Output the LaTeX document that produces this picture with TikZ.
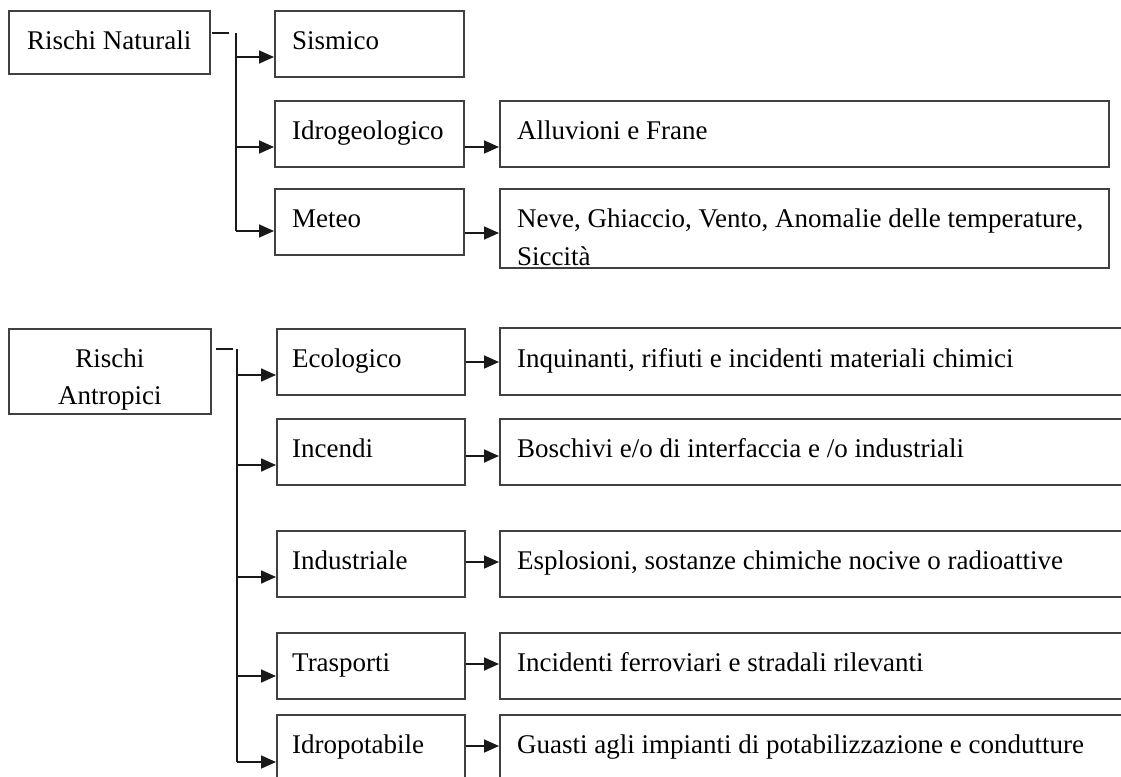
\documentclass[tikz,border=0pt]{standalone}
\usepackage{fontspec}
\setmainfont{Liberation Serif}
\usetikzlibrary{arrows.meta}
\begin{document}
\begin{tikzpicture}[x=1pt,y=-1pt,
  box/.style={draw=black!75, line width=1.6pt, anchor=north west, inner sep=0pt, fill=none},
  txt/.style={inner sep=0pt, font=\fontsize{27pt}{33pt}\selectfont, text=black},
  lt/.style={txt, anchor=base west},
  ct/.style={txt, anchor=base},
  conn/.style={draw=black!90, line width=1.7pt},
  arr/.style={conn, -{Triangle[length=15pt,width=13pt]}}]
\path[use as bounding box] (0,0) rectangle (1121,776);
\clip (0,0) rectangle (1121,776);
\fill[white] (0,0) rectangle (1121,776);
% ---------- Rischi Naturali ----------
\node[box, minimum width=201pt, minimum height=63pt] (nat) at (8,10) {};
\node[ct] (natT) at ([yshift=-39pt]nat.north) {Rischi Naturali};
\node[box, minimum width=189pt, minimum height=66pt] (sis) at (274,10) {};
\node[lt] (sisT) at ([xshift=18pt,yshift=-39pt]sis.north west) {Sismico};
\node[box, minimum width=189pt, minimum height=66pt] (idg) at (274,100) {};
\node[lt] (idgT) at ([xshift=18pt,yshift=-39pt]idg.north west) {Idrogeologico};
\node[box, minimum width=189pt, minimum height=66pt] (met) at (274,188) {};
\node[lt] (metT) at ([xshift=18pt,yshift=-39pt]met.north west) {Meteo};
\node[box, minimum width=609pt, minimum height=66pt] (all) at (499,100) {};
\node[lt] (allT) at ([xshift=18pt,yshift=-39pt]all.north west) {Alluvioni e Frane};
\node[box, minimum width=609pt, minimum height=79pt] (nev) at (499,188) {};
\node[lt] (nevT) at ([xshift=18pt,yshift=-39pt]nev.north west) {Neve, Ghiaccio, Vento, Anomalie delle temperature,};
\node[lt] (nevT2) at ([xshift=18pt,yshift=-77pt]nev.north west) {Siccità};
% connectors
\coordinate (nA) at (212,33);
\coordinate (nB) at (229,33);
\coordinate (nVt) at (236,33);
\coordinate (nVb) at (236,231);
\draw[conn] (nA) -- (nB);
\draw[conn] (nVt) -- (nVb);
\draw[arr] (nVt |- 0,57) -- (sis.west |- 0,57);
\draw[arr] (nVt |- 0,147) -- (idg.west |- 0,147);
\draw[arr] (nVb) -- (met.west |- nVb);
\draw[arr] (idg.east |- 0,147) -- (all.west |- 0,147);
\draw[arr] (met.east |- 0,233) -- (nev.west |- 0,233);
% ---------- Rischi Antropici ----------
\node[box, minimum width=202pt, minimum height=85pt] (ant) at (8,328) {};
\node[ct] (antT1) at ([yshift=-39pt]ant.north) {Rischi};
\node[ct] (antT2) at ([yshift=-76pt]ant.north) {Antropici};
\node[box, minimum width=188pt, minimum height=66pt] (eco) at (276,328) {};
\node[lt] (ecoT) at ([xshift=16pt,yshift=-39pt]eco.north west) {Ecologico};
\node[box, minimum width=188pt, minimum height=66pt] (inc) at (276,418) {};
\node[lt] (incT) at ([xshift=16pt,yshift=-39pt]inc.north west) {Incendi};
\node[box, minimum width=188pt, minimum height=66pt] (ind) at (276,530) {};
\node[lt] (indT) at ([xshift=16pt,yshift=-39pt]ind.north west) {Industriale};
\node[box, minimum width=188pt, minimum height=66pt] (tra) at (276,632) {};
\node[lt] (traT) at ([xshift=16pt,yshift=-39pt]tra.north west) {Trasporti};
\node[box, minimum width=188pt, minimum height=80pt] (idp) at (276,714) {};
\node[lt] (idpT) at ([xshift=16pt,yshift=-39pt]idp.north west) {Idropotabile};
\node[box, minimum width=640pt, minimum height=67pt] (ecoR) at (499,327) {};
\node[lt] (ecoRT) at ([xshift=18pt,yshift=-40pt]ecoR.north west) {Inquinanti, rifiuti e incidenti materiali chimici};
\node[box, minimum width=640pt, minimum height=66pt] (incR) at (499,418) {};
\node[lt] (incRT) at ([xshift=18pt,yshift=-39pt]incR.north west) {Boschivi e/o di interfaccia e /o industriali};
\node[box, minimum width=640pt, minimum height=66pt] (indR) at (499,530) {};
\node[lt] (indRT) at ([xshift=18pt,yshift=-39pt]indR.north west) {Esplosioni, sostanze chimiche nocive o radioattive};
\node[box, minimum width=640pt, minimum height=66pt] (traR) at (499,632) {};
\node[lt] (traRT) at ([xshift=18pt,yshift=-39pt]traR.north west) {Incidenti ferroviari e stradali rilevanti};
\node[box, minimum width=640pt, minimum height=80pt] (idpR) at (499,714) {};
\node[lt] (idpRT) at ([xshift=18pt,yshift=-39pt]idpR.north west) {Guasti agli impianti di potabilizzazione e condutture};
% connectors
\coordinate (aA) at (216,349);
\coordinate (aB) at (233,349);
\coordinate (aVt) at (237,349);
\coordinate (aVb) at (237,762);
\draw[conn] (aA) -- (aB);
\draw[conn] (aVt) -- (aVb);
\draw[arr] (aVt |- 0,375) -- (eco.west |- 0,375);
\draw[arr] (aVt |- 0,465) -- (inc.west |- 0,465);
\draw[arr] (aVt |- 0,577) -- (ind.west |- 0,577);
\draw[arr] (aVt |- 0,676) -- (tra.west |- 0,676);
\draw[arr] (aVb) -- (idp.west |- aVb);
\draw[arr] (eco.east |- 0,362) -- (ecoR.west |- 0,362);
\draw[arr] (inc.east |- 0,456) -- (incR.west |- 0,456);
\draw[arr] (ind.east |- 0,562) -- (indR.west |- 0,562);
\draw[arr] (tra.east |- 0,664) -- (traR.west |- 0,664);
\draw[arr] (idp.east |- 0,746) -- (idpR.west |- 0,746);
\end{tikzpicture}
\end{document}
